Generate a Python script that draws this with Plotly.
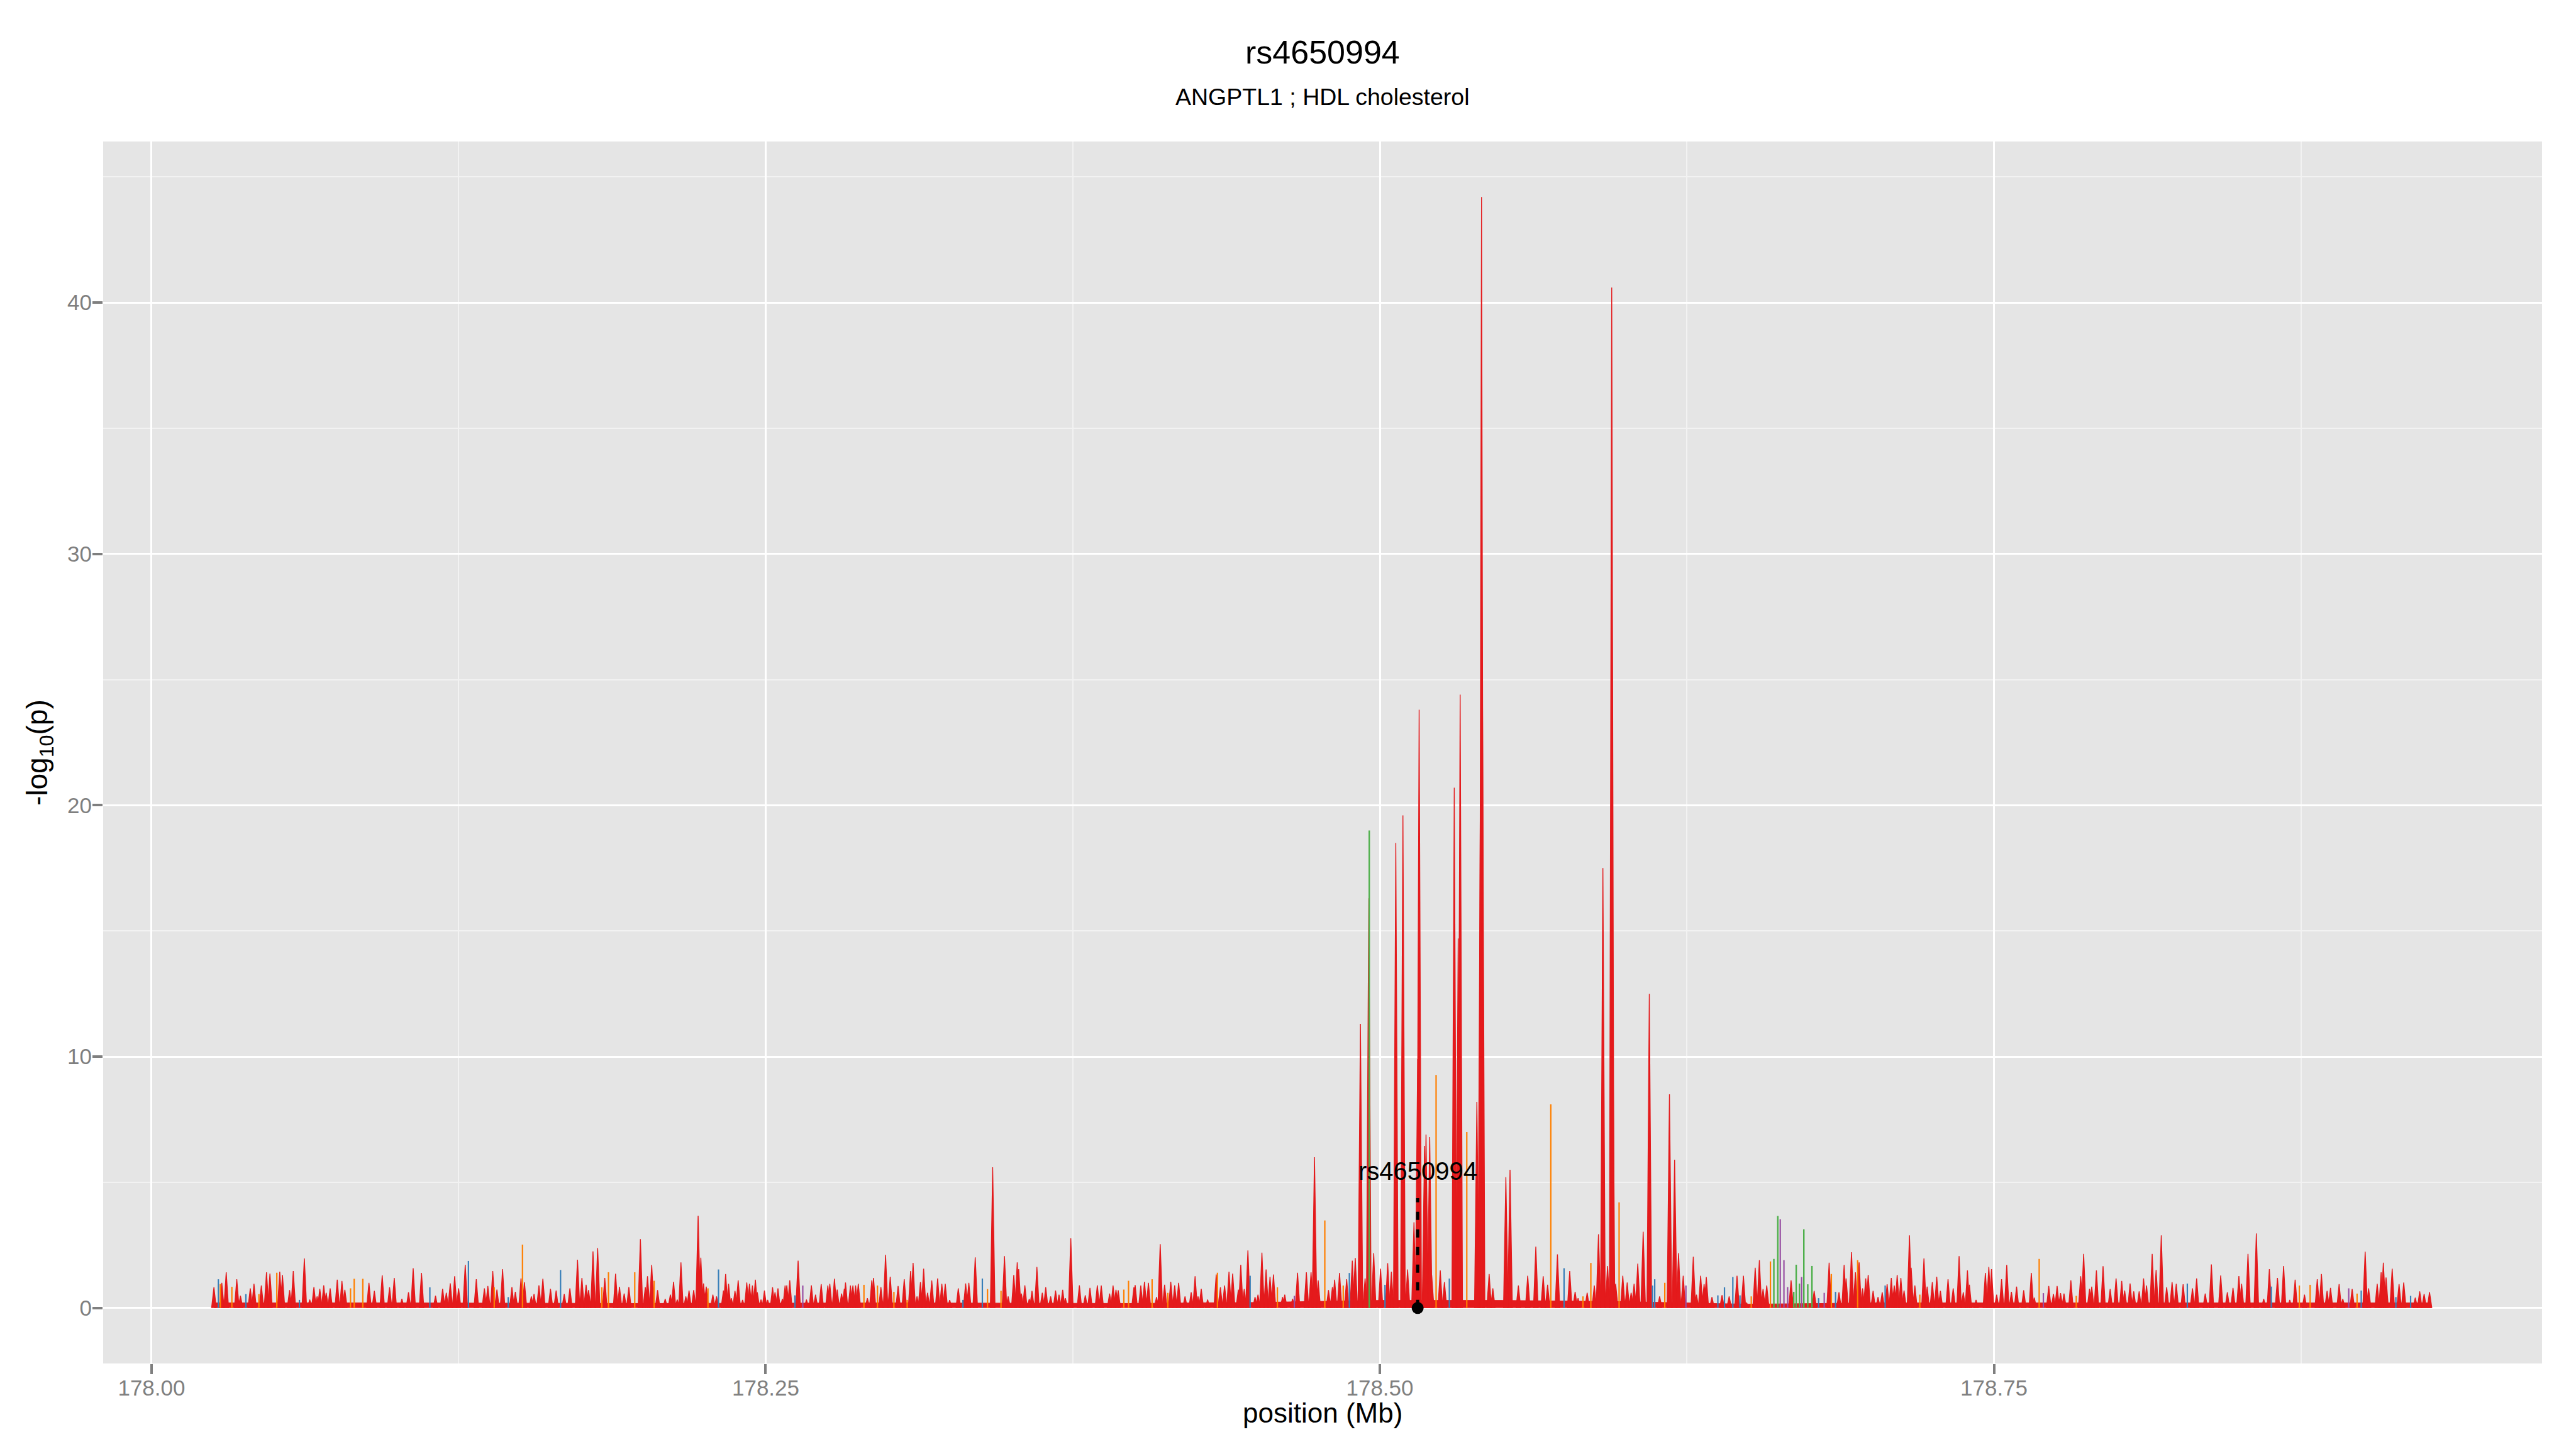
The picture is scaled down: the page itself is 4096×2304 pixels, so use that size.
import plotly.graph_objects as go

# ---------------- data ----------------
title_text = "rs4650994"
subtitle_text = "ANGPTL1 ; HDL cholesterol"
x_ticks = [178.00, 178.25, 178.50, 178.75]
x_ticklabels = ["178.00", "178.25", "178.50", "178.75"]
y_ticks = [0, 10, 20, 30, 40]

snp_name = "rs4650994"
snp_pos = 178.5154

red_pos = [
    178.0254, 178.0286, 178.0304, 178.0347, 178.0362, 178.0402, 178.0417, 178.0447, 178.0468, 178.0482,
    178.0522, 178.0533, 178.0562, 178.0577, 178.0622, 178.0644, 178.0661, 178.0674, 178.0685, 178.0701,
    178.0711, 178.0727, 178.0756, 178.0775, 178.0787, 178.0885, 178.0907, 178.0939, 178.0969, 178.0988,
    178.1019, 178.1046, 178.1065, 178.1099, 178.1156, 178.1185, 178.1200, 178.1216, 178.1234, 178.1250,
    178.1277, 178.1322, 178.1355, 178.1369, 178.1389, 178.1406, 178.1429, 178.1467, 178.1481, 178.1504,
    178.1518, 178.1546, 178.1557, 178.1577, 178.1593, 178.1624, 178.1647, 178.1680, 178.1703, 178.1734,
    178.1752, 178.1769, 178.1779, 178.1797, 178.1816, 178.1845, 178.1889, 178.1905, 178.1924, 178.1943,
    178.1990, 178.2010, 178.2019, 178.2036,
    178.2060, 178.2091, 178.2112, 178.2125, 178.2140, 178.2155, 178.2175, 178.2188, 178.2207, 178.2225,
    178.2236, 178.2247, 178.2258, 178.2285, 178.2300, 178.2328, 178.2337, 178.2349, 178.2360, 178.2375,
    178.2388, 178.2406, 178.2423, 178.2434, 178.2446, 178.2458, 178.2466, 178.2481, 178.2495, 178.2508,
    178.2528, 178.2538, 178.2550, 178.2568, 178.2579, 178.2586, 178.2598, 178.2632, 178.2666, 178.2686,
    178.2703, 178.2726, 178.2753, 178.2761, 178.2780, 178.2791, 178.2809, 178.2820, 178.2825, 178.2845,
    178.2855, 178.2866, 178.2877, 178.2914, 178.2932, 178.2939, 178.2969, 178.2988, 178.3007, 178.3039,
    178.3064, 178.3090, 178.3100, 178.3116, 178.3130, 178.3143, 178.3159, 178.3176, 178.3200, 178.3217,
    178.3231, 178.3249, 178.3284, 178.3314, 178.3327, 178.3353, 178.3424, 178.3472, 178.3487, 178.3510,
    178.3524, 178.3530, 178.3541, 178.3555, 178.3573, 178.3584, 178.3604, 178.3626, 178.3640, 178.3660,
    178.3680, 178.3694, 178.3709, 178.3720, 178.3742, 178.3777, 178.3801, 178.3820, 178.3850,
    178.3866, 178.3900, 178.3914, 178.3926, 178.3935, 178.3999, 178.4004, 178.4027, 178.4042, 178.4058,
    178.4091, 178.4106, 178.4124, 178.4149, 178.4165, 178.4181, 178.4207, 178.4232, 178.4248, 178.4260,
    178.4273, 178.4299, 178.4334, 178.4351, 178.4368, 178.4386, 178.4401, 178.4424, 178.4434, 178.4448,
    178.4463, 178.4492, 178.4504, 178.4520, 178.4537, 178.4553, 178.4567, 178.4604, 178.4613, 178.4645,
    178.4665, 178.4701, 178.4720, 178.4734, 178.4749, 178.4791, 178.4807, 178.4816, 178.4836, 178.4865,
    178.4888, 178.4900, 178.4921, 178.4940, 178.4955, 178.4975, 178.5003, 178.5032, 178.5047, 178.5065,
    178.5094, 178.5113, 178.5139, 178.5154, 178.5160, 178.5182, 178.5188, 178.5203, 178.5211, 178.5246,
    178.5263, 178.5303, 178.5319, 178.5327, 178.5395, 178.5409, 178.5414, 178.5418, 178.5445, 178.5460,
    178.5513, 178.5530, 178.5564, 178.5602, 178.5635, 178.5665,
    178.5683, 178.5723, 178.5773, 178.5795, 178.5807, 178.5844, 178.5873, 178.5890, 178.5908, 178.5927,
    178.5944, 178.5947, 178.5960, 178.5989, 178.6007, 178.6023, 178.6035, 178.6050, 178.6072, 178.6097,
    178.6139, 178.6179, 178.6200, 178.6216, 178.6235, 178.6276, 178.6289, 178.6306, 178.6320, 178.6329,
    178.6352, 178.6393, 178.6422, 178.6454, 178.6480, 178.6493, 178.6528, 178.6545, 178.6560, 178.6575,
    178.6674, 178.6768, 178.6829, 178.6869, 178.6890, 178.6898, 178.6920, 178.6936, 178.6951, 178.6965,
    178.6978, 178.6988, 178.7008, 178.7028, 178.7045, 178.7065, 178.7082, 178.7094, 178.7106, 178.7121,
    178.7134, 178.7156, 178.7163, 178.7178, 178.7215, 178.7228, 178.7249, 178.7267, 178.7282, 178.7313,
    178.7334, 178.7358, 178.7375, 178.7392, 178.7400, 178.7427, 178.7465, 178.7479,
    178.7490, 178.7511, 178.7531, 178.7552, 178.7571, 178.7592, 178.7621, 178.7652, 178.7664, 178.7723,
    178.7742, 178.7757, 178.7771, 178.7785, 178.7813, 178.7853, 178.7865, 178.7889, 178.7898, 178.7917,
    178.7944, 178.7973, 178.7997, 178.8020, 178.8032, 178.8054, 178.8069, 178.8091, 178.8109, 178.8121,
    178.8144, 178.8160, 178.8181, 178.8203, 178.8225, 178.8242, 178.8270, 178.8308, 178.8325, 178.8360,
    178.8385, 178.8423, 178.8450, 178.8473, 178.8497, 178.8508, 178.8534, 178.8568, 178.8598, 178.8621,
    178.8654, 178.8679, 178.8704, 178.8726, 178.8764, 178.8816, 178.8833, 178.8856, 178.8870, 178.8905,
    178.8920, 178.8958, 178.9011, 178.9025, 178.9060, 178.9076, 178.9085, 178.9096, 178.9121, 178.9149,
    178.9168, 178.9215, 178.9233, 178.9251, 178.9273,
]
red_val = [
    0.82, 1.00, 1.42, 1.14, 0.48, 0.78, 0.96, 0.89, 1.42, 1.37,
    1.44, 1.31, 0.71, 1.47, 1.97, 0.33, 0.83, 0.46, 0.76, 0.90,
    0.60, 0.78, 1.12, 1.07, 0.72, 1.00, 0.68, 1.30, 0.82, 1.19,
    0.36, 0.62, 1.58, 1.39, 0.48, 0.76, 0.60, 0.98, 1.26, 0.78,
    1.72, 1.14, 0.78, 0.87, 1.47, 0.73, 1.54, 0.83, 0.64, 1.17,
    1.02, 0.46, 0.55, 0.90, 1.16, 0.76, 0.69, 0.55, 0.78, 1.92,
    1.19, 0.92, 0.71, 2.25, 2.38, 1.19, 1.36, 0.84, 0.57, 0.83,
    2.74, 0.83, 1.26, 1.71,
    0.71, 0.36, 0.53, 1.04, 0.33, 1.81, 0.46, 0.69, 0.71, 3.67,
    2.00, 0.97, 0.85, 0.53, 0.46, 0.69, 1.35, 0.96, 0.39, 0.68,
    1.10, 0.32, 1.01, 0.96, 0.89, 1.12, 0.62, 0.33, 0.69, 0.32,
    0.82, 0.62, 0.78, 0.36, 0.89, 0.90, 1.10, 1.88, 0.33, 0.90,
    0.53, 0.95, 0.89, 0.96, 1.16, 0.73, 0.57, 0.76, 1.01, 0.89,
    0.89, 0.89, 0.96, 0.39, 1.10, 1.19, 0.83, 2.11, 1.24, 0.87,
    1.14, 1.47, 1.79, 0.46, 1.03, 1.56, 0.60, 1.09, 1.17, 0.96,
    0.96, 0.31, 0.78, 0.97, 1.00, 2.01, 5.60, 2.06, 0.46, 1.31,
    1.81, 1.54, 0.57, 0.90, 0.36, 0.68, 1.63, 0.60, 0.82, 0.46,
    0.69, 0.53, 0.72, 0.39, 2.77, 0.90, 0.50, 0.80, 0.90,
    0.89, 0.57, 0.89, 0.72, 0.70, 0.82, 0.91, 0.89, 1.04, 1.00,
    0.43, 2.54, 0.92, 1.04, 0.90, 1.00, 0.46, 0.62, 1.26, 0.46,
    0.76, 0.33, 1.33, 0.82, 0.89, 1.44, 1.37, 0.73, 1.72, 0.75,
    2.29, 0.43, 0.53, 2.20, 1.53, 1.24, 1.33, 0.43, 0.53, 0.36,
    1.40, 1.42, 1.42, 6.00, 1.10, 0.71, 0.83, 1.12, 1.39, 1.14,
    1.88, 1.99, 11.30, 1.17, 16.30, 2.18, 1.56, 1.78, 1.44, 18.50,
    19.60, 1.53, 3.41, 9.90, 23.80, 6.45, 6.90, 6.80, 1.31, 1.49,
    1.03, 20.70, 14.70, 24.40, 8.20, 19.70, 44.20, 24.00, 1.35, 0.78,
    5.20, 5.50, 0.89, 1.28, 2.44, 1.26,
    0.92, 2.13, 1.47, 0.64, 0.39, 0.60, 0.89, 2.93, 17.50, 1.67,
    40.60, 14.20, 0.96, 1.28, 1.01, 0.60, 0.96, 1.76, 3.03, 12.50,
    0.46, 8.50, 5.90, 2.18, 1.28, 2.04, 0.53, 1.28, 0.95, 1.23,
    0.43, 0.51, 0.46, 1.28, 1.28, 0.21, 1.60, 1.90, 0.75, 0.89,
    1.10, 0.68, 1.80, 0.62, 1.71, 1.17, 2.22, 1.42, 1.81, 0.78,
    1.17, 1.31, 0.68, 0.43, 0.62, 0.94, 1.19, 0.89, 1.31, 1.19,
    0.69, 2.89, 1.60, 0.89, 1.97, 0.85, 1.03, 1.24, 0.68, 1.14,
    0.78, 2.06, 0.62, 1.49, 0.92, 0.32, 1.39, 1.63,
    1.54, 0.53, 1.14, 1.71, 0.64, 0.85, 0.70, 1.39, 0.41, 0.87,
    0.55, 0.87, 0.59, 0.57, 1.10, 1.26, 2.15, 0.76, 0.85, 1.49,
    1.66, 0.75, 1.17, 1.07, 0.69, 0.97, 0.66, 0.66, 1.17, 0.89,
    2.15, 1.51, 2.89, 0.82, 1.03, 0.96, 0.94, 0.78, 1.17, 0.57,
    1.73, 1.29, 0.62, 0.80, 1.27, 0.96, 2.15, 2.96, 0.36, 1.54,
    1.19, 1.67, 0.32, 1.12, 0.53, 1.14, 1.35, 0.68, 0.80, 0.95,
    0.36, 0.75, 2.24, 0.78, 0.96, 1.42, 1.80, 1.21, 1.56, 0.95,
    1.01, 0.41, 0.66, 0.55, 0.63,
]

orange_pos = [178.0280, 178.0327, 178.0437, 178.0510, 178.0810, 178.0825, 178.0860, 178.1395, 178.1510,
              178.1833, 178.1860, 178.1967, 178.2046, 178.2265, 178.2900, 178.2955, 178.3022, 178.3076,
              178.3403, 178.3458, 178.3958, 178.3977, 178.4073, 178.4137, 178.4339, 178.4583, 178.4776,
              178.4851, 178.5229, 178.5354, 178.5696, 178.5827, 178.5859, 178.5974, 178.6160, 178.6512,
              178.6590, 178.6838, 178.6945, 178.7198, 178.7684, 178.7835, 178.8743, 178.8787, 178.8978]
orange_val = [0.95, 0.84, 0.55, 1.40, 0.78, 1.16, 1.16, 0.82, 2.52,
              0.82, 1.42, 1.42, 1.08, 0.78, 0.92, 0.89, 0.64, 0.32,
              0.75, 0.68, 0.73, 1.08, 1.14, 0.60, 1.40, 0.82, 3.48,
              0.89, 9.27, 7.00, 8.10, 0.46, 1.79, 4.20, 1.00, 0.46,
              1.85, 1.35, 1.90, 0.53, 1.95, 0.48, 0.89, 0.92, 0.57]

blue_pos = [178.0272, 178.0384, 178.0602, 178.1133, 178.1290, 178.1452, 178.1665, 178.2308, 178.2619,
            178.3303, 178.3382, 178.4472, 178.4876, 178.5021, 178.5283, 178.5750, 178.6110, 178.6119,
            178.6376, 178.6403, 178.6437, 178.6466, 178.6786, 178.6855, 178.7057, 178.8287, 178.8629,
            178.8995, 178.9136, 178.9196]
blue_val = [1.14, 0.55, 0.32, 0.82, 1.87, 0.43, 1.51, 1.53, 0.50,
            0.32, 1.17, 1.28, 1.39, 0.92, 1.17, 1.58, 0.89, 1.14,
            0.50, 0.82, 1.23, 0.50, 0.39, 0.64, 0.89, 0.97, 0.85,
            0.69, 0.43, 0.48]

purple_pos = [178.2651, 178.4652, 178.6246, 178.6630, 178.6645, 178.6660, 178.6717, 178.6809, 178.7701, 178.8944]
purple_val = [0.89, 0.48, 0.89, 3.53, 1.90, 0.83, 1.23, 0.60, 0.59, 0.78]

green_pos = [178.4957, 178.6604, 178.6620, 178.6685, 178.6695, 178.6708, 178.6726, 178.6742, 178.6759]
green_val = [19.00, 1.95, 3.66, 0.64, 1.72, 0.97, 3.13, 0.94, 1.67]

floor_pos = [178.0254, 178.1000, 178.2000, 178.3000, 178.4000, 178.4500, 178.5000, 178.5500,
             178.6000, 178.6500, 178.7000, 178.8000, 178.9280]
floor_val = [0.20, 0.20, 0.18, 0.20, 0.18, 0.22, 0.30, 0.30, 0.25, 0.15, 0.20, 0.20, 0.20]

# ---------------- style ----------------
RED = "#E41A1C"
ORANGE = "#FF7F00"
BLUE = "#377EB8"
PURPLE = "#984EA3"
GREEN = "#4DAF4A"
FONT = "Liberation Sans, Arial, Helvetica, sans-serif"
HW = 0.00095  # half base width of a spike triangle (Mb)

# the page body adds an 8px offset; positions below are in page pixels
OFF = 8
W, H = 4096, 2304
PL, PR, PT, PB = 163.5, 4042.4, 225.2, 2168.1   # plot area edges in page pixels
ML, MT = PL - OFF, PT - OFF
MR, MB = W - (PR - OFF), H - (PB - OFF)
PH = PB - PT
PW = PR - PL


def py(page_y):
    return (PB - page_y) / PH


def px(page_x):
    return (page_x - PL) / PW


def triangles(pos, val):
    xs, ys = [], []
    for p, v in zip(pos, val):
        xs += [p - HW, p, p + HW, None]
        ys += [0, v, 0, None]
    return xs, ys


def sticks(pos, val):
    xs, ys = [], []
    for p, v in zip(pos, val):
        xs += [p, p, None]
        ys += [0, v, None]
    return xs, ys


fig = go.Figure()

fig.add_trace(go.Scatter(x=floor_pos, y=floor_val, mode="lines", fill="tozeroy",
                         fillcolor=RED, line=dict(color=RED, width=1), hoverinfo="skip"))

rx, ry = triangles(red_pos, red_val)
fig.add_trace(go.Scatter(x=rx, y=ry, mode="lines", fill="toself", fillcolor=RED,
                         line=dict(color=RED, width=1.4), connectgaps=False, hoverinfo="skip"))

for pos, val, col, w in [(orange_pos, orange_val, ORANGE, 2.2),
                         (blue_pos, blue_val, BLUE, 2.2),
                         (purple_pos, purple_val, PURPLE, 2.2),
                         (green_pos, green_val, GREEN, 2.4)]:
    sx, sy = sticks(pos, val)
    fig.add_trace(go.Scatter(x=sx, y=sy, mode="lines", line=dict(color=col, width=w),
                             connectgaps=False, hoverinfo="skip"))

# dashed marker line + point for the index SNP
fig.add_trace(go.Scatter(x=[snp_pos, snp_pos], y=[0, 4.37], mode="lines",
                         line=dict(color="black", width=5, dash="13px,15px"), hoverinfo="skip"))
fig.add_trace(go.Scatter(x=[snp_pos], y=[0], mode="markers",
                         marker=dict(color="black", size=19), hoverinfo="skip"))

axis_common = dict(
    showline=False, zeroline=False, showgrid=True, gridcolor="white", gridwidth=3.4,
    ticks="outside", ticklen=16, tickwidth=3.5, tickcolor="#7F7F7F",
    tickfont=dict(family=FONT, size=35, color="#7F7F7F"),
)

fig.update_layout(
    width=W, height=H,
    margin=dict(l=ML, r=MR, t=MT, b=MB, autoexpand=False),
    paper_bgcolor="white", plot_bgcolor="#E5E5E5",
    showlegend=False,
    xaxis=dict(range=[177.9803, 178.9731], tickvals=x_ticks, ticktext=x_ticklabels,
               ticklabelstandoff=-8,
               minor=dict(tickvals=[178.125, 178.375, 178.625, 178.875], showgrid=True,
                          gridcolor="#F2F2F2", gridwidth=1.7, ticks=""),
               **axis_common),
    yaxis=dict(range=[-2.21, 46.41], tickvals=y_ticks, ticktext=[str(v) for v in y_ticks],
               ticklabelstandoff=-6,
               minor=dict(tickvals=[5, 15, 25, 35, 45], showgrid=True,
                          gridcolor="#F2F2F2", gridwidth=1.7, ticks=""),
               **axis_common),
)

ann = [
    dict(text=title_text, xref="paper", x=0.5, yref="paper", y=py(83),
         font=dict(family=FONT, size=52, color="black")),
    dict(text=subtitle_text, xref="paper", x=0.5, yref="paper", y=py(154),
         font=dict(family=FONT, size=37.5, color="black")),
    dict(text="position (Mb)", xref="paper", x=0.5, yref="paper", y=py(2247),
         font=dict(family=FONT, size=44, color="black")),
    dict(text="-log<sub>10</sub>(p)", xref="paper", x=px(62), yref="paper", y=0.5, textangle=-90,
         font=dict(family=FONT, size=46, color="black")),
    dict(text=snp_name, xref="x", x=snp_pos, yref="y", y=5.44,
         font=dict(family=FONT, size=40, color="black")),
]
for a in ann:
    fig.add_annotation(showarrow=False, xanchor="center", yanchor="middle", **a)

fig.write_html("out.html")
